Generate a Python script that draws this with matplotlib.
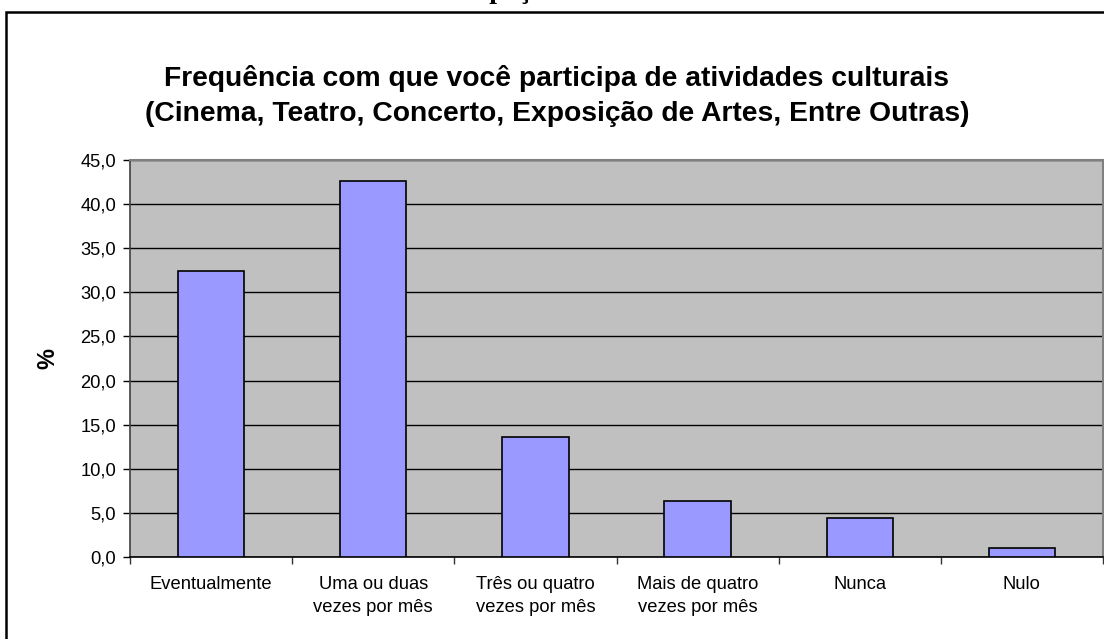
import matplotlib
matplotlib.use("Agg")
import matplotlib.pyplot as plt
from matplotlib.patches import Rectangle
import numpy as np

plt.rcParams['font.family'] = ['Liberation Sans', 'DejaVu Sans']

# data
categories = ["Eventualmente", "Uma ou duas\nvezes por mês", "Três ou quatro\nvezes por mês",
              "Mais de quatro\nvezes por mês", "Nunca", "Nulo"]
percent = [32.4, 42.6, 13.6, 6.4, 4.4, 1.0]
yticks = [0, 5, 10, 15, 20, 25, 30, 35, 40, 45]
ytick_labels = ["%.1f" % v for v in yticks]
ytick_labels = [s.replace(".", ",") for s in ytick_labels]

W, H = 1104, 639
fig = plt.figure(figsize=(W/100, H/100), dpi=100)

# outer chart frame (runs off the right/bottom edge)
fig.patches.append(Rectangle((6/W, -0.1), 1.2, (H-12)/H + 0.1, transform=fig.transFigure,
                             fill=False, edgecolor="black", linewidth=1.8))

# cut off heading from the page above (only descenders show)
fig.text(484/W, 1 + 2.5/H, "Participação", ha="center", va="baseline",
         family="Liberation Serif", fontweight="bold", fontsize=20)

ax = fig.add_axes([130/W, (H-557)/H, (1103-130)/W, (557-160)/H])
ax.set_facecolor("#C0C0C0")
x = np.arange(len(categories))
ax.bar(x, percent, width=0.41, color="#9999FF", edgecolor="black", linewidth=1.2, zorder=3)

ax.set_xlim(-0.5, len(categories) - 0.5)
ax.set_ylim(0, 45)
ax.set_yticks(yticks)
ax.set_yticklabels(ytick_labels, fontsize=13.2)
ax.set_xticks(x)
ax.set_xticklabels(categories, fontsize=13.2, linespacing=1.4, va="top")
ax.set_xticks(np.arange(len(categories) + 1) - 0.5, minor=True)
ax.tick_params(axis="x", which="major", length=0, pad=14)
ax.tick_params(axis="x", which="minor", length=5, width=1, color="#333333", direction="out")
ax.tick_params(axis="y", length=5, width=1, color="black", direction="out", pad=5)

ax.grid(axis="y", color="black", linewidth=1, zorder=1)
ax.set_axisbelow(True)
for side in ["top", "right"]:
    ax.spines[side].set_color("#808080")
    ax.spines[side].set_linewidth(1.5)
ax.spines["left"].set_color("#404040")
ax.spines["bottom"].set_color("black")
ax.spines["left"].set_linewidth(1.2)
ax.spines["bottom"].set_linewidth(1.2)

ax.set_ylabel("%", fontsize=17, fontweight="bold", labelpad=15)

fig.text(557/W, 1 - 96/H, "Frequência com que você participa de atividades culturais\n"
         "(Cinema, Teatro, Concerto, Exposição de Artes, Entre Outras)",
         ha="center", va="center", fontsize=20.3, fontweight="bold", linespacing=1.45)

fig.savefig("out.png", dpi=100)
